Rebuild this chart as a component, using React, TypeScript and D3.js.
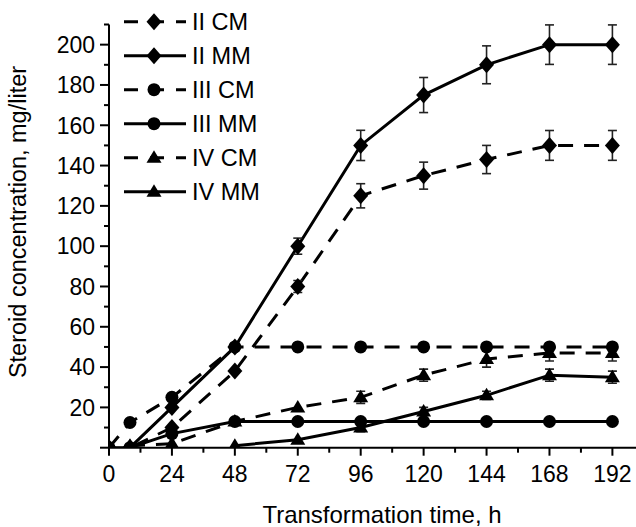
import React from 'react';
import * as d3 from 'd3';

// sampling times, h
const hours = [0, 8, 24, 48, 72, 96, 120, 144, 168, 192];

// steroid concentration, mg/liter (null = no point)
const iiCM = [0, 0, 10, 38, 80, 125, 135, 143, 150, 150];
const iiCMErr = [0, 0, 0, 0, 3, 6, 6.7, 7, 7.4, 7.4];
const iiMM = [null, 0, 20, 50, 100, 150, 175, 190, 200, 200];
const iiMMErr = [0, 0, 0, 0, 4, 7.5, 8.7, 9.4, 9.8, 9.8];
const iiiCM = [0, 12.5, 25, 50, 50, 50, 50, 50, 50, 50];
const iiiCMErr = [0, 0, 0, 0, 0, 0, 0, 1, 1, 1];
const iiiMM = [null, 0, 7, 13, 13, 13, 13, 13, 13, 13];
const iiiMMErr = [0, 0, 0, 0, 0, 0, 0, 0, 0, 0];
const ivCM = [null, 1, 2, 13, 20, 25, 36, 44, 47, 47];
const ivCMErr = [0, 0, 0, 0, 0, 3, 3, 4, 4, 4];
const ivMM = [null, null, null, 1, 4, 10, 18, 26, 36, 35];
const ivMMErr = [0, 0, 0, 0, 0, 2, 2, 2, 3, 3];

const seriesNames = ['II CM', 'II MM', 'III CM', 'III MM', 'IV CM', 'IV MM'];
const seriesValues = [iiCM, iiMM, iiiCM, iiiMM, ivCM, ivMM];
const seriesErrors = [iiCMErr, iiMMErr, iiiCMErr, iiiMMErr, ivCMErr, ivMMErr];
const seriesShapes = ['diamond', 'diamond', 'circle', 'circle', 'triangle', 'triangle'];
const seriesDashed = [true, false, true, false, true, false];

const xTicks = [0, 24, 48, 72, 96, 120, 144, 168, 192];
const xMinorTicks = [12, 36, 60, 84, 108, 132, 156, 180];
const yTicks = [0, 20, 40, 60, 80, 100, 120, 140, 160, 180, 200];
const yMinorTicks = [10, 30, 50, 70, 90, 110, 130, 150, 170, 190, 210];

const W = 636;
const H = 527;
const FONT = '"Liberation Sans", Arial, Helvetica, sans-serif';

const markerPath = (shape: string) => {
  if (shape === 'diamond') return 'M0,-8.5L7.5,0L0,8.5L-7.5,0Z';
  if (shape === 'triangle') return 'M0,-7.5L7.5,5L-7.5,5Z';
  return d3.arc()({ innerRadius: 0, outerRadius: 6.5, startAngle: 0, endAngle: 2 * Math.PI } as any) as string;
};

export default function App() {
  const x = d3.scaleLinear().domain([0, 201]).range([109, 636]);
  const y = d3.scaleLinear().domain([0, 210]).range([447.7, 24.5]);
  const x0 = x(0);
  const y0 = y(0);

  const line = d3
    .line<[number, number | null]>()
    .defined(d => d[1] !== null)
    .x(d => x(d[0]))
    .y(d => y(d[1] as number));

  return (
    <svg width={W} height={H} style={{ position: 'absolute', left: 0, top: 0, background: '#fff' }} fontFamily={FONT}>
      <rect width={W} height={H} fill="#fff" />
      <defs>
        <clipPath id="plot">
          <rect x={x0} y={0} width={W - x0} height={y0} />
        </clipPath>
      </defs>

      <g clipPath="url(#plot)">
        {seriesValues.map((vals, i) => (
          <path
            key={'l' + i}
            d={line(hours.map((h, j) => [h, vals[j]]) as any) || ''}
            fill="none"
            stroke="#000"
            strokeWidth={3}
            strokeDasharray={seriesDashed[i] ? '15,11' : undefined}
          />
        ))}
        {seriesValues.map((vals, i) =>
          hours.map((h, j) => {
            const v = vals[j];
            const e = seriesErrors[i][j];
            if (v === null || !e) return null;
            return (
              <g key={'e' + i + '-' + j} stroke="#222" strokeWidth={1.6}>
                <line x1={x(h)} x2={x(h)} y1={y(v + e)} y2={y(v - e)} />
                <line x1={x(h) - 4.5} x2={x(h) + 4.5} y1={y(v + e)} y2={y(v + e)} />
                <line x1={x(h) - 4.5} x2={x(h) + 4.5} y1={y(v - e)} y2={y(v - e)} />
              </g>
            );
          })
        )}
        {seriesValues.map((vals, i) =>
          hours.map((h, j) => {
            const v = vals[j];
            if (v === null) return null;
            return (
              <path
                key={'m' + i + '-' + j}
                d={markerPath(seriesShapes[i])}
                transform={`translate(${x(h)},${y(v)})`}
                fill="#000"
              />
            );
          })
        )}
      </g>

      {/* axes */}
      <g stroke="#000" strokeWidth={2}>
        <line x1={x0} x2={W} y1={y0} y2={y0} />
        <line x1={x0} x2={x0} y1={y(210)} y2={y0 + 1} />
        {xTicks.map(t => (
          <line key={'xt' + t} x1={x(t)} x2={x(t)} y1={y0} y2={y0 + 8} />
        ))}
        {xMinorTicks.map(t => (
          <line key={'xm' + t} x1={x(t)} x2={x(t)} y1={y0} y2={y0 + 5} />
        ))}
        {yTicks.map(t => (
          <line key={'yt' + t} x1={x0 - 9} x2={x0} y1={y(t)} y2={y(t)} />
        ))}
        {yMinorTicks.map(t => (
          <line key={'ym' + t} x1={x0 - 5} x2={x0} y1={y(t)} y2={y(t)} />
        ))}
      </g>

      <g fontSize={23} fill="#000">
        {xTicks.map(t => (
          <text key={'xl' + t} x={x(t)} y={482} textAnchor="middle">
            {t}
          </text>
        ))}
        {yTicks
          .filter(t => t > 0)
          .map(t => (
            <text key={'yl' + t} x={95} y={y(t)} dy="0.36em" textAnchor="end">
              {t}
            </text>
          ))}
      </g>

      <text x={382} y={523} textAnchor="middle" fontSize={24}>
        Transformation time, h
      </text>
      <text transform="translate(26,222) rotate(-90)" textAnchor="middle" fontSize={23.5}>
        Steroid concentration, mg/liter
      </text>

      {/* legend */}
      <g>
        {seriesNames.map((name, i) => {
          const ly = 21.7 + i * 34;
          return (
            <g key={'lg' + i}>
              <line
                x1={124}
                x2={186}
                y1={ly}
                y2={ly}
                stroke="#000"
                strokeWidth={3}
                strokeDasharray={seriesDashed[i] ? '14,12' : undefined}
              />
              <path d={markerPath(seriesShapes[i])} transform={`translate(154,${ly})`} fill="#000" />
              <text x={192} y={ly} dy="0.36em" fontSize={23.5}>
                {name}
              </text>
            </g>
          );
        })}
      </g>
    </svg>
  );
}
